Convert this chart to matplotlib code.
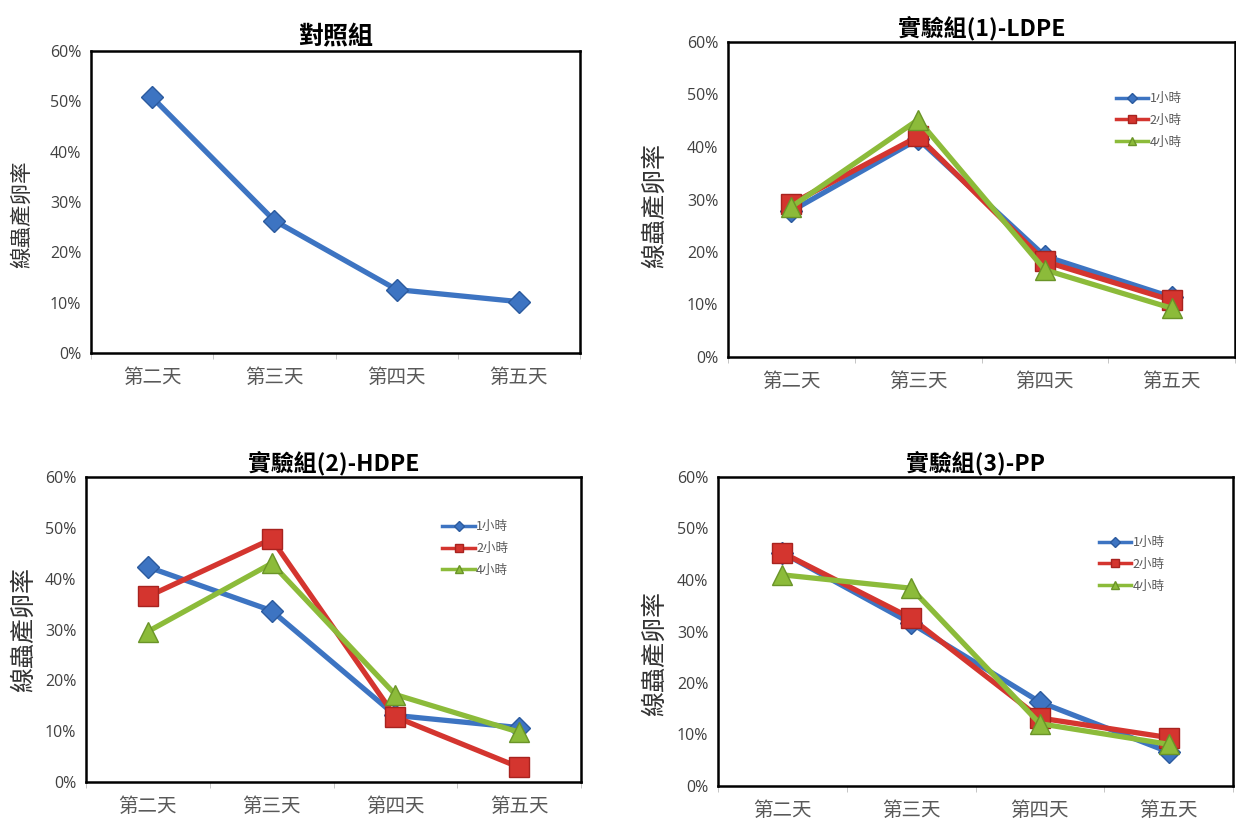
import matplotlib
matplotlib.use("Agg")
import matplotlib.pyplot as plt
from matplotlib.ticker import PercentFormatter, FixedLocator

plt.rcParams['font.family'] = ['Noto Sans CJK TC', 'DejaVu Sans']

# ---- data -------------------------------------------------------------
days = ['第二天', '第三天', '第四天', '第五天']
series_names = ['1小時', '2小時', '4小時']

control = [50.8, 26.3, 12.6, 10.2]

ldpe_1h = [27.8, 41.5, 19.2, 11.4]
ldpe_2h = [29.2, 42.0, 18.2, 10.8]
ldpe_4h = [28.6, 45.2, 16.6, 9.3]

hdpe_1h = [42.3, 33.7, 13.1, 10.7]
hdpe_2h = [36.5, 47.8, 12.8, 2.9]
hdpe_4h = [29.6, 43.0, 17.2, 9.8]

pp_1h = [45.3, 31.6, 16.3, 6.6]
pp_2h = [45.3, 32.6, 13.2, 9.4]
pp_4h = [41.0, 38.4, 12.1, 8.1]

titles = ['對照組', '實驗組(1)-LDPE', '實驗組(2)-HDPE', '實驗組(3)-PP']
ylabel = '線蟲產卵率'
yticks = [0, 10, 20, 30, 40, 50, 60]

# ---- styling ----------------------------------------------------------
W, H = 1236, 826
colors = ['#3D74C2', '#D4352F', '#8CBB3A']
edges = ['#2B5A9E', '#A8231F', '#6A9428']
markers = ['D', 's', '^']
msizes = [11, 14, 14]
tick_grey = '#595959'

fig = plt.figure(figsize=(W / 100, H / 100), dpi=100)
fig.patch.set_facecolor('white')


def px_axes(left, top, right, bottom):
    return fig.add_axes([left / W, 1 - bottom / H, (right - left) / W, (bottom - top) / H])


def style_axes(ax, title, title_size, label_x, label_y, label_size):
    x = list(range(len(days)))
    ax.set_xlim(-0.5, len(days) - 0.5)
    ax.set_ylim(0, 60)
    ax.set_xticks(x)
    ax.set_xticklabels(days, fontsize=14, color=tick_grey)
    ax.xaxis.set_minor_locator(FixedLocator([i - 0.5 for i in range(len(days) + 1)]))
    ax.tick_params(axis='x', which='major', length=0, pad=10)
    ax.tick_params(axis='x', which='minor', length=4, color='#BBBBBB', direction='out')
    ax.set_yticks(yticks)
    ax.yaxis.set_major_formatter(PercentFormatter(decimals=0))
    ax.tick_params(axis='y', length=0, pad=7, labelsize=11.5, labelcolor='#404040')
    for lab in ax.get_yticklabels():
        lab.set_fontfamily(['Open Sans', 'DejaVu Sans'])
    for sp in ax.spines.values():
        sp.set_linewidth(1.8)
        sp.set_color('black')
    ax.set_title(title, fontsize=title_size, fontweight='bold', pad=5)
    ax.set_ylabel(ylabel, fontsize=label_size, color='#333333')
    ax.yaxis.set_label_coords(label_x, label_y)


def draw_series(ax, values, i, label=None):
    ax.plot(range(len(days)), values, color=colors[i], lw=3.8,
            marker=markers[i], ms=msizes[i], mfc=colors[i], mec=edges[i],
            mew=1.0, label=label, solid_joinstyle='round')


def add_legend(ax, anchor):
    leg = ax.legend(loc='upper left', bbox_to_anchor=anchor, frameon=False,
                    fontsize=9, handlelength=2.6, handletextpad=0.1,
                    labelspacing=0.7, markerscale=0.45, borderaxespad=0)
    for t in leg.get_texts():
        t.set_color(tick_grey)
    for h in leg.get_lines():
        h.set_linewidth(2.5)


# top-left: control group
ax1 = px_axes(91, 51, 580, 353)
draw_series(ax1, control, 0)
style_axes(ax1, titles[0], 18, -0.118, 0.46, 15.5)

# top-right: LDPE
ax2 = px_axes(728, 42, 1235, 357)
for i, vals in enumerate([ldpe_1h, ldpe_2h, ldpe_4h]):
    draw_series(ax2, vals, i, series_names[i])
style_axes(ax2, titles[1], 16.5, -0.118, 0.48, 18)
add_legend(ax2, (0.755, 0.857))

# bottom-left: HDPE
ax3 = px_axes(86, 477, 581, 782)
for i, vals in enumerate([hdpe_1h, hdpe_2h, hdpe_4h]):
    draw_series(ax3, vals, i, series_names[i])
style_axes(ax3, titles[2], 16.5, -0.1, 0.5, 18)
add_legend(ax3, (0.71, 0.875))

# bottom-right: PP
ax4 = px_axes(718, 477, 1233, 786)
for i, vals in enumerate([pp_1h, pp_2h, pp_4h]):
    draw_series(ax4, vals, i, series_names[i])
style_axes(ax4, titles[3], 16.5, -0.098, 0.43, 18)
add_legend(ax4, (0.73, 0.825))

fig.savefig('out.png', dpi=100, facecolor='white')
